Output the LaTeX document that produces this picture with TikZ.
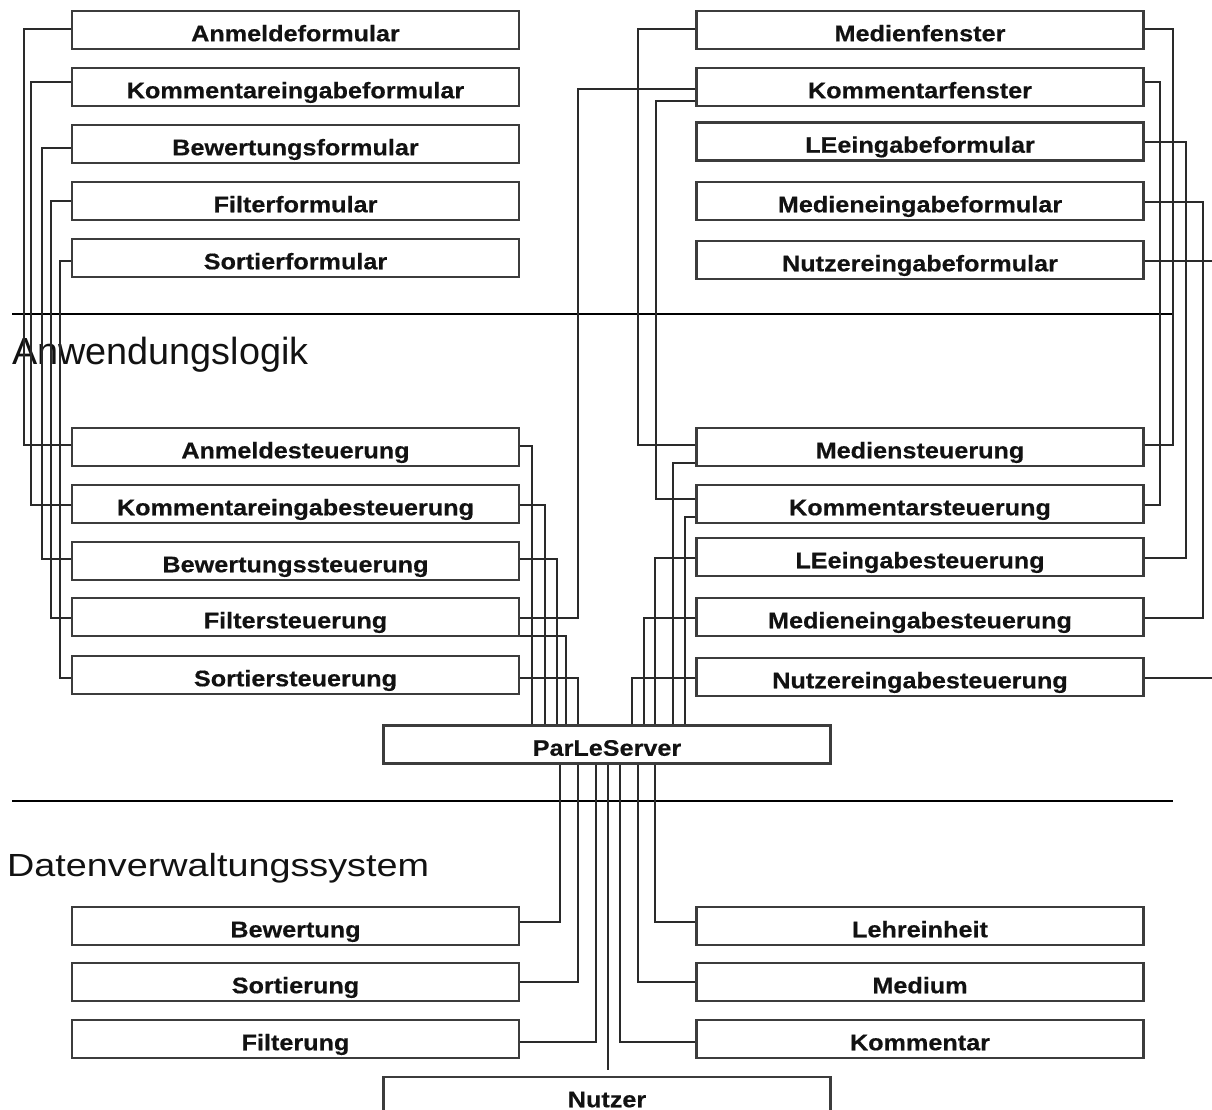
\documentclass[tikz,border=0pt]{standalone}
\usepackage{fontspec}
\setmainfont{Liberation Sans}
\newfontfamily\boxfont[FakeStretch=1.12, FakeBold=0.4]{Liberation Sans}
\newfontfamily\layerfont{Liberation Sans}
\newfontfamily\widelayerfont[FakeStretch=1.18]{Liberation Sans}
\usetikzlibrary{calc}
\definecolor{boxline}{HTML}{3C3C3C}
\definecolor{linkcol}{HTML}{2A2A2A}
\definecolor{labeltext}{HTML}{121212}
\tikzset{
  box/.style={draw=boxline, line width=2.1pt, fill=white,
    minimum width=447pt, minimum height=38pt, inner sep=0pt,
    text height=22.5pt, text depth=0pt, text=labeltext,
    font=\boxfont\bfseries\fontsize{22.5}{27}\selectfont},
  link/.style={draw=linkcol, line width=1.5pt},
  layerline/.style={draw=black, line width=1.4pt},
}
\begin{document}
\begin{tikzpicture}[x=1pt, y=-1pt]
\useasboundingbox (0,0) rectangle (1212,1110);
\fill[white] (0,0) rectangle (1212,1110);

% layer separators and layer titles
\draw[layerline] (12,314) -- (1173,314);
\draw[layerline] (12,801) -- (1173,801);
\node[anchor=base west, inner sep=0pt, text=labeltext,
  font=\layerfont\fontsize{37.8}{40}\selectfont] (appTitle) at (12,364) {Anwendungslogik};
\node[anchor=base west, inner sep=0pt, text=labeltext,
  font=\widelayerfont\fontsize{32}{36}\selectfont] (dataTitle) at (7,876) {Datenverwaltungssystem};

% presentation: left column
\node[box] (anmF) at (295.5,30)  {Anmeldeformular};
\node[box] (kmeF) at (295.5,87)  {Kommentareingabeformular};
\node[box] (bewF) at (295.5,144) {Bewertungsformular};
\node[box] (filF) at (295.5,201) {Filterformular};
\node[box] (sorF) at (295.5,258) {Sortierformular};
% presentation: right column
\node[box] (medF) at (920,30)    {Medienfenster};
\node[box] (kmtF) at (920,87)    {Kommentarfenster};
\node[box] (leF)  at (920,141.5) {LEeingabeformular};
\node[box] (mieF) at (920,201)   {Medieneingabeformular};
\node[box] (nueF) at (920,260)   {Nutzereingabeformular};

% application logic: left column
\node[box] (anmS) at (295.5,447) {Anmeldesteuerung};
\node[box] (kmeS) at (295.5,504) {Kommentareingabesteuerung};
\node[box] (bewS) at (295.5,561) {Bewertungssteuerung};
\node[box] (filS) at (295.5,617) {Filtersteuerung};
\node[box] (sorS) at (295.5,675) {Sortiersteuerung};
% application logic: right column
\node[box] (medS) at (920,447) {Mediensteuerung};
\node[box] (kmtS) at (920,504) {Kommentarsteuerung};
\node[box] (leS)  at (920,557) {LEeingabesteuerung};
\node[box] (mieS) at (920,617) {Medieneingabesteuerung};
\node[box] (nueS) at (920,677) {Nutzereingabesteuerung};

\node[box] (server) at (607,744.5) {ParLeServer};

% data layer
\node[box] (bewD) at (295.5,926)  {Bewertung};
\node[box] (sorD) at (295.5,982)  {Sortierung};
\node[box] (filD) at (295.5,1039) {Filterung};
\node[box] (leD)  at (920,926)    {Lehreinheit};
\node[box] (mdD)  at (920,982)    {Medium};
\node[box] (kmD)  at (920,1039)   {Kommentar};
\node[box] (nutzer) at (607,1096) {Nutzer};

% forms -> controllers, left side
\draw[link] (anmF.west |- 0,29)  -| (24,445) -- (anmS.west |- 0,445);
\draw[link] (kmeF.west |- 0,82)  -| (31,505) -- (kmeS.west |- 0,505);
\draw[link] (bewF.west |- 0,148) -| (42,559) -- (bewS.west |- 0,559);
\draw[link] (filF.west |- 0,201) -| (51,618) -- (filS.west |- 0,618);
\draw[link] (sorF.west |- 0,261) -| (60,678) -- (sorS.west |- 0,678);

% left controllers -> server
\draw[link] (anmS.east |- 0,446) -| (server.north -| 532,0);
\draw[link] (kmeS.east |- 0,505) -| (server.north -| 545,0);
\draw[link] (bewS.east |- 0,559) -| (server.north -| 557,0);
\draw[link] (filS.east |- 0,636) -| (server.north -| 566,0);
\draw[link] (sorS.east |- 0,678) -| (server.north -| 578,0);
\draw[link] (filS.east |- 0,618) -| (578,89) -- (kmtF.west |- 0,89);

% windows -> controllers and controllers -> server, right side
\draw[link] (medF.west |- 0,29)  -| (638,445) -- (medS.west |- 0,445);
\draw[link] (kmtF.west |- 0,101) -| (656,499) -- (kmtS.west |- 0,499);
\draw[link] (medS.west |- 0,463) -| (server.north -| 673,0);
\draw[link] (kmtS.west |- 0,517) -| (server.north -| 685,0);
\draw[link] (leS.west  |- 0,558) -| (server.north -| 655,0);
\draw[link] (mieS.west |- 0,618) -| (server.north -| 644,0);
\draw[link] (nueS.west |- 0,678) -| (server.north -| 632,0);

% windows/forms -> controllers, right outer side
\draw[link] (medF.east |- 0,29)  -| (1173,445) -- (medS.east |- 0,445);
\draw[link] (kmtF.east |- 0,82)  -| (1160,505) -- (kmtS.east |- 0,505);
\draw[link] (leF.east  |- 0,142) -| (1186,558) -- (leS.east  |- 0,558);
\draw[link] (mieF.east |- 0,202) -| (1203,618) -- (mieS.east |- 0,618);
\draw[link] (nueF.east |- 0,261) -| (1220,678) -- (nueS.east |- 0,678);

% server -> data layer
\draw[link] (server.south -| 560,0) |- (bewD.east |- 0,922);
\draw[link] (server.south -| 578,0) |- (sorD.east |- 0,982);
\draw[link] (server.south -| 596,0) |- (filD.east |- 0,1042);
\draw[link, shorten >=6pt] (server.south -| 608,0) -- (nutzer.north -| 608,0);
\draw[link] (server.south -| 620,0) |- (kmD.west |- 0,1042);
\draw[link] (server.south -| 638,0) |- (mdD.west |- 0,982);
\draw[link] (server.south -| 655,0) |- (leD.west |- 0,922);
\end{tikzpicture}
\end{document}
